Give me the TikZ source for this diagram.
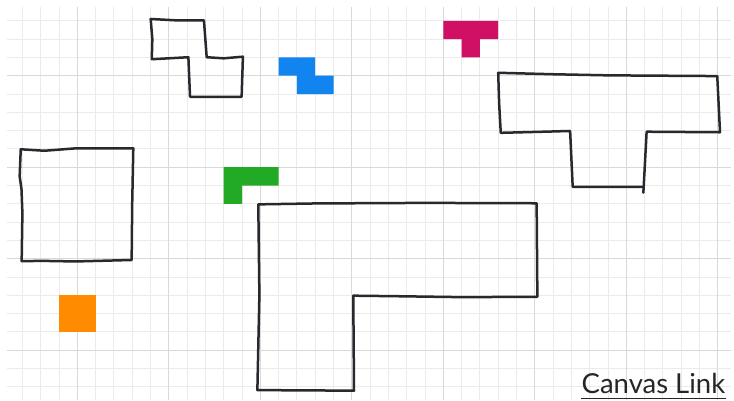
\documentclass[tikz,border=0pt]{standalone}
\usepackage{fontspec}
\setmainfont{Lato}
\definecolor{tblue}{RGB}{17,132,240}
\definecolor{tpink}{RGB}{208,16,100}
\definecolor{tgreen}{RGB}{34,170,38}
\definecolor{torange}{RGB}{255,140,0}
\definecolor{pen}{RGB}{40,40,46}

\begin{document}
\begin{tikzpicture}[x=18.3pt,y=-18.3pt,
  minor/.style={draw=black!8,line width=0.9pt},
  major/.style={draw=black!15,line width=1.2pt},
  sketch/.style={draw=pen,line width=2.5pt,line join=round,line cap=round}]
\useasboundingbox (-0.224,-0.137) rectangle (39.885,21.721);
\foreach \i in {1,...,39} \draw[minor] (\i,0.23)--(\i,21.721);
\foreach \j in {1,...,21} \draw[minor] (0.16,\j)--(39.72,\j);
\foreach \i in {4,9,...,39} \draw[major] (\i,0.23)--(\i,21.721);
\foreach \j in {4,9,14,19} \draw[major] (0.16,\j)--(39.72,\j);
\fill[tblue] (15,3)--(17,3)--(17,4)--(18,4)--(18,5)--(16,5)--(16,4)--(15,4)--cycle;
\fill[tpink] (24,1)--(27,1)--(27,2)--(26,2)--(26,3)--(25,3)--(25,2)--(24,2)--cycle;
\fill[tgreen] (12,9)--(15,9)--(15,10)--(13,10)--(13,11)--(12,11)--cycle;
\fill[torange] (3,16) rectangle (5,18);
\draw[sketch] (8.01,0.9)--(9.5,0.98)--(10.92,0.97)--(11.07,2.99)--(12,3.05)--(13.05,2.96)
  --(12.98,5.15)--(10.16,5.15)--(10.07,2.99)--(8.07,3.1)--(8.1,2)--cycle;
\draw[sketch] (0.91,8.02)--(2.2,8.1)--(3.9,7.97)--(7.06,7.97)--(7.0,11)--(6.97,14.07)
  --(3.9,14.15)--(2.2,14.12)--(0.96,14.13)--(1.0,11.5)--(0.95,10.2)--(0.85,9.5)--cycle;
\draw[sketch] (27.0,3.84)--(30,3.92)--(33,3.98)--(38.97,4.02)--(39.12,7.09)--(35.11,7.06)
  --(34.95,10.07)--(31.07,10.07)--(30.93,7.02)--(29.5,7.06)--(27.14,7.12)--(27.05,5.5)--cycle;
\draw[sketch] (34.95,10.07)--(34.93,10.39);
\draw[sketch] (13.89,11.03)--(17,10.98)--(23,10.95)--(29.1,10.97)--(29.14,16.08)
  --(25,16.1)--(21.5,16.05)--(19.08,16.02)--(19.12,21.21)--(13.84,21.18)--(13.95,16)--cycle;
\node[inner sep=0pt,anchor=base east,font=\fontsize{27.5}{31}\selectfont,text=black!85]
  (link) at (39.42,21.35) {Canvas Link};
\draw[black!85,line width=1.2pt] ([yshift=-5pt]link.base west)--([yshift=-5pt]link.base east);
\end{tikzpicture}
\end{document}
